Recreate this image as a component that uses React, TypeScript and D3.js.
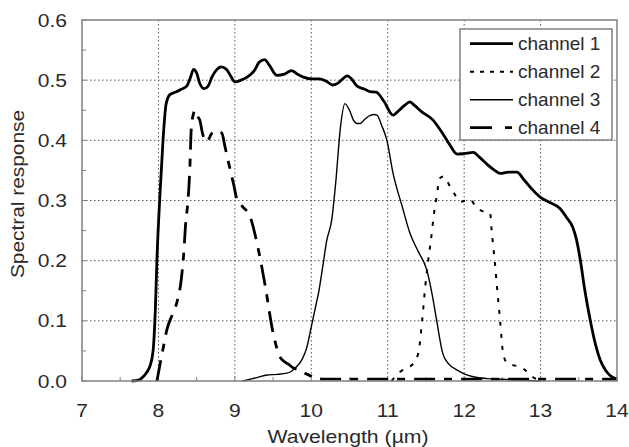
import React from "react";
import * as d3 from "d3";

const xTicks = [7, 8, 9, 10, 11, 12, 13, 14];
const yTicks = [0, 0.1, 0.2, 0.3, 0.4, 0.5, 0.6];
const yTickLabels = ["0.0", "0.1", "0.2", "0.3", "0.4", "0.5", "0.6"];

const ch1X = [7.65,7.75,7.8,7.85,7.89,7.93,7.96,7.98,8.02,8.06,8.1,8.15,8.22,8.3,8.37,8.42,8.46,8.5,8.54,8.6,8.65,8.7,8.76,8.82,8.89,8.95,9.0,9.08,9.16,9.25,9.32,9.39,9.45,9.55,9.65,9.74,9.82,9.9,10.0,10.1,10.2,10.28,10.35,10.42,10.47,10.52,10.6,10.7,10.77,10.85,10.95,11.07,11.15,11.22,11.29,11.35,11.45,11.59,11.7,11.8,11.91,12.0,12.12,12.2,12.3,12.4,12.47,12.58,12.69,12.78,12.88,12.99,13.1,13.25,13.35,13.42,13.47,13.52,13.58,13.65,13.72,13.78,13.85,13.92,14.0];
const ch1Y = [0,0.002,0.007,0.015,0.025,0.05,0.12,0.2,0.31,0.4,0.46,0.476,0.48,0.485,0.49,0.505,0.518,0.512,0.495,0.486,0.49,0.505,0.517,0.522,0.518,0.506,0.497,0.5,0.505,0.515,0.53,0.534,0.525,0.508,0.51,0.516,0.51,0.505,0.502,0.502,0.498,0.492,0.495,0.503,0.507,0.503,0.49,0.485,0.481,0.48,0.465,0.442,0.45,0.458,0.464,0.458,0.447,0.434,0.415,0.395,0.377,0.378,0.38,0.372,0.36,0.35,0.345,0.347,0.347,0.335,0.32,0.306,0.298,0.287,0.27,0.256,0.235,0.201,0.15,0.101,0.06,0.035,0.018,0.008,0.003];

const ch2X = [11.05,11.16,11.25,11.32,11.4,11.45,11.49,11.53,11.58,11.6,11.64,11.68,11.73,11.77,11.82,11.86,11.95,12.02,12.08,12.15,12.21,12.3,12.34,12.36,12.4,12.43,12.47,12.51,12.56,12.65,12.73,12.8,12.86,12.95,13.05];
const ch2Y = [0,0.015,0.022,0.027,0.046,0.1,0.156,0.2,0.25,0.273,0.306,0.337,0.34,0.334,0.322,0.314,0.298,0.3,0.302,0.29,0.284,0.28,0.279,0.25,0.2,0.156,0.101,0.046,0.03,0.026,0.024,0.018,0.01,0.003,0];

const ch3X = [9.1,9.2,9.3,9.42,9.55,9.68,9.75,9.81,9.88,9.94,10.0,10.05,10.1,10.15,10.2,10.27,10.32,10.38,10.44,10.5,10.55,10.6,10.64,10.7,10.75,10.82,10.86,10.92,10.99,11.07,11.19,11.29,11.4,11.51,11.58,11.64,11.72,11.8,11.91,12.0,12.12,12.3,12.5,12.8,13.0];
const ch3Y = [0,0.003,0.006,0.01,0.011,0.013,0.017,0.024,0.036,0.055,0.09,0.12,0.15,0.19,0.232,0.27,0.33,0.42,0.461,0.45,0.434,0.428,0.428,0.435,0.44,0.443,0.442,0.425,0.4,0.345,0.29,0.246,0.215,0.185,0.145,0.101,0.046,0.028,0.018,0.012,0.007,0.004,0.003,0.001,0];

const ch4X = [7.98,8.02,8.07,8.11,8.18,8.24,8.3,8.33,8.36,8.38,8.41,8.43,8.46,8.48,8.51,8.54,8.58,8.62,8.65,8.69,8.72,8.77,8.83,8.87,8.91,8.98,9.03,9.1,9.2,9.3,9.4,9.5,9.59,9.65,9.7,9.76,9.85,9.93,10.0,10.05,10.2,10.5,11,12,13,14];
const ch4Y = [0.0,0.027,0.06,0.085,0.11,0.13,0.17,0.21,0.268,0.29,0.35,0.42,0.445,0.45,0.44,0.434,0.41,0.398,0.4,0.41,0.415,0.415,0.412,0.39,0.367,0.329,0.301,0.29,0.273,0.223,0.156,0.08,0.04,0.032,0.028,0.022,0.018,0.012,0.008,0.004,0.003,0.003,0.003,0.003,0.003,0.003];

const seriesNames = ["channel 1", "channel 2", "channel 3", "channel 4"];

const FONT = "'Liberation Sans', Arial, sans-serif";

export default function App() {
  const x = d3.scaleLinear().domain([7, 14]).range([82, 617]);
  const y = d3.scaleLinear().domain([0, 0.6]).range([381, 20]);
  const line = d3
    .line<[number, number]>()
    .x((d) => x(d[0]))
    .y((d) => y(d[1]))
    .curve(d3.curveMonotoneX);
  const zip = (xs: number[], ys: number[]) => xs.map((v, i) => [v, ys[i]] as [number, number]);

  const styles = [
    { w: 2.8, dash: "none" },
    { w: 2, dash: "4,8" },
    { w: 1.4, dash: "none" },
    { w: 2.8, dash: "21,9,8,9" },
  ];
  const data = [zip(ch1X, ch1Y), zip(ch2X, ch2Y), zip(ch3X, ch3Y), zip(ch4X, ch4Y)];
  const legendStyles = [
    { w: 2.8, dash: "none" },
    { w: 2, dash: "4,6" },
    { w: 1.4, dash: "none" },
    { w: 2.8, dash: "22,13,7,20" },
  ];

  const minorX = d3.range(7, 14.001, 0.5);
  const minorY = d3.range(0, 0.6001, 0.05);
  const gridColor = "#555";
  const axisColor = "#808080";
  const textColor = "#2a2a2a";

  return (
    <svg width={629} height={447} style={{ display: "block", position: "absolute", left: 0, top: 0 }}>
      <rect x={0} y={0} width={629} height={447} fill="#fff" />
      {xTicks.slice(1, -1).map((t) => (
        <line key={"gx" + t} x1={x(t)} x2={x(t)} y1={y(0.6)} y2={y(0)} stroke={gridColor} strokeWidth={1} strokeDasharray="1.5,2.5" />
      ))}
      {yTicks.slice(1, -1).map((t) => (
        <line key={"gy" + t} x1={x(7)} x2={x(14)} y1={y(t)} y2={y(t)} stroke={gridColor} strokeWidth={1} strokeDasharray="1.5,2.5" />
      ))}
      {minorX.map((t) => (
        <line key={"mx" + t} x1={x(t)} x2={x(t)} y1={y(0)} y2={y(0) - 4} stroke={axisColor} strokeWidth={1} />
      ))}
      {minorY.map((t) => (
        <line key={"my" + t} x1={x(7)} x2={x(7) + 4} y1={y(t)} y2={y(t)} stroke={axisColor} strokeWidth={1} />
      ))}
      {data.map((d, i) => (
        <path key={"s" + i} d={line(d) || ""} fill="none" stroke="#000" strokeWidth={styles[i].w} strokeDasharray={styles[i].dash} strokeLinejoin="round" />
      ))}
      <rect x={x(7)} y={y(0.6)} width={x(14) - x(7)} height={y(0) - y(0.6)} fill="none" stroke={axisColor} strokeWidth={1.5} />
      {xTicks.map((t) => (
        <text key={"xl" + t} transform={`translate(${x(t)},417) scale(1.17,1)`} textAnchor="middle" fontFamily={FONT} fontSize={18} fill={textColor}>
          {t}
        </text>
      ))}
      {yTicks.map((t, i) => (
        <text key={"yl" + t} transform={`translate(67,${y(t) + 6.5}) scale(1.17,1)`} textAnchor="end" fontFamily={FONT} fontSize={18} fill={textColor}>
          {yTickLabels[i]}
        </text>
      ))}
      <text transform={`translate(348,443) scale(1.18,1)`} textAnchor="middle" fontFamily={FONT} fontSize={18} fill={textColor}>
        Wavelength (µm)
      </text>
      <text transform={`translate(24,194) rotate(-90) scale(1.16,1)`} textAnchor="middle" fontFamily={FONT} fontSize={18} fill={textColor}>
        Spectral response
      </text>
      <rect x={460} y={29} width={152} height={111} fill="#fff" stroke={axisColor} strokeWidth={1.5} />
      {seriesNames.map((n, i) => {
        const ly = 43.7 + i * 28;
        return (
          <g key={"lg" + i}>
            <line x1={470} x2={513} y1={ly} y2={ly} stroke="#000" strokeWidth={legendStyles[i].w} strokeDasharray={legendStyles[i].dash} />
            <text x={518} y={ly + 6} fontFamily={FONT} fontSize={19} fill={textColor}>
              {n}
            </text>
          </g>
        );
      })}
    </svg>
  );
}
